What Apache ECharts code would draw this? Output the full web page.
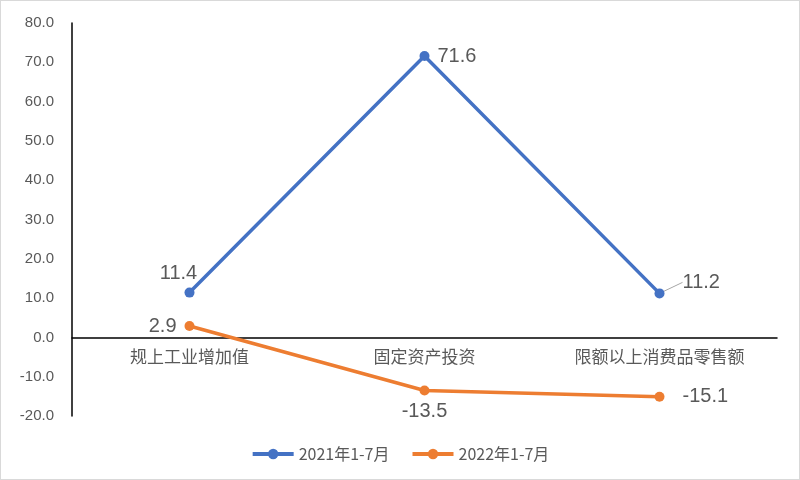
<!DOCTYPE html>
<html><head><meta charset="utf-8">
<script src="https://cdn.jsdelivr.net/npm/echarts@6/dist/echarts.min.js"></script>
<style>
html,body{margin:0;padding:0;background:#fff;}
#c{width:798px;height:478px;border:1px solid #d9d9d9;}
</style></head>
<body><div id="c"></div>
<script>
const categories = ['规上工业增加值', '固定资产投资', '限额以上消费品零售额'];
const series2021 = [11.4, 71.6, 11.2];
const series2022 = [2.9, -13.5, -15.1];
const seriesNames = ['2021年1-7月', '2022年1-7月'];

const chart = echarts.init(document.getElementById('c'));
const txt = '#595959';
const font = '"Noto Sans CJK SC", "Liberation Sans", sans-serif';
const numFont = '"Liberation Sans", sans-serif';
chart.setOption({
  animation: false,
  grid: {left: 71, right: 22, top: 22, bottom: 63, containLabel: false},
  legend: {
    bottom: 12, left: 'center', itemGap: 21, itemWidth: 41, itemHeight: 13,
    lineStyle: {width: 4},
    textStyle: {color: txt, fontSize: 16, fontFamily: font},
    data: seriesNames
  },
  xAxis: {
    type: 'category', data: categories,
    axisLine: {onZero: true, lineStyle: {color: '#000', width: 1.5}},
    axisTick: {show: false},
    axisLabel: {color: txt, fontSize: 17, fontFamily: font, margin: -68}
  },
  yAxis: {
    type: 'value', min: -20, max: 80, interval: 10,
    axisLine: {show: true, lineStyle: {color: '#000', width: 1.5}},
    axisTick: {show: false},
    splitLine: {show: false},
    axisLabel: {color: txt, fontSize: 15, fontFamily: numFont, margin: 18,
      formatter: v => v.toFixed(1)}
  },
  series: [
    {
      name: seriesNames[0], type: 'line',
      symbol: 'circle', symbolSize: 10,
      lineStyle: {color: '#4472C4', width: 3.5}, itemStyle: {color: '#4472C4'},
      label: {show: true, color: txt, fontSize: 20, fontFamily: numFont},
      labelLine: {show: false},
      data: [
        {value: series2021[0], label: {position: 'top', distance: 4}},
        {value: series2021[1], label: {position: 'right', distance: 8}},
        {value: series2021[2], label: {position: 'right', distance: 8},
          labelLine: {show: true, lineStyle: {color: '#a6a6a6', width: 1}}}
      ],
      labelLayout: function (p) {
        if (p.dataIndex === 0) return {dx: -11};
        if (p.dataIndex === 2) return {dx: 10, dy: -11};
        return {};
      }
    },
    {
      name: seriesNames[1], type: 'line',
      symbol: 'circle', symbolSize: 10,
      lineStyle: {color: '#ED7D31', width: 3.5}, itemStyle: {color: '#ED7D31'},
      label: {show: true, color: txt, fontSize: 20, fontFamily: numFont},
      data: [
        {value: series2022[0], label: {position: 'left', distance: 8}},
        {value: series2022[1], label: {position: 'bottom', distance: 6}},
        {value: series2022[2], label: {position: 'right', distance: 18}}
      ]
    }
  ]
});
</script></body></html>
